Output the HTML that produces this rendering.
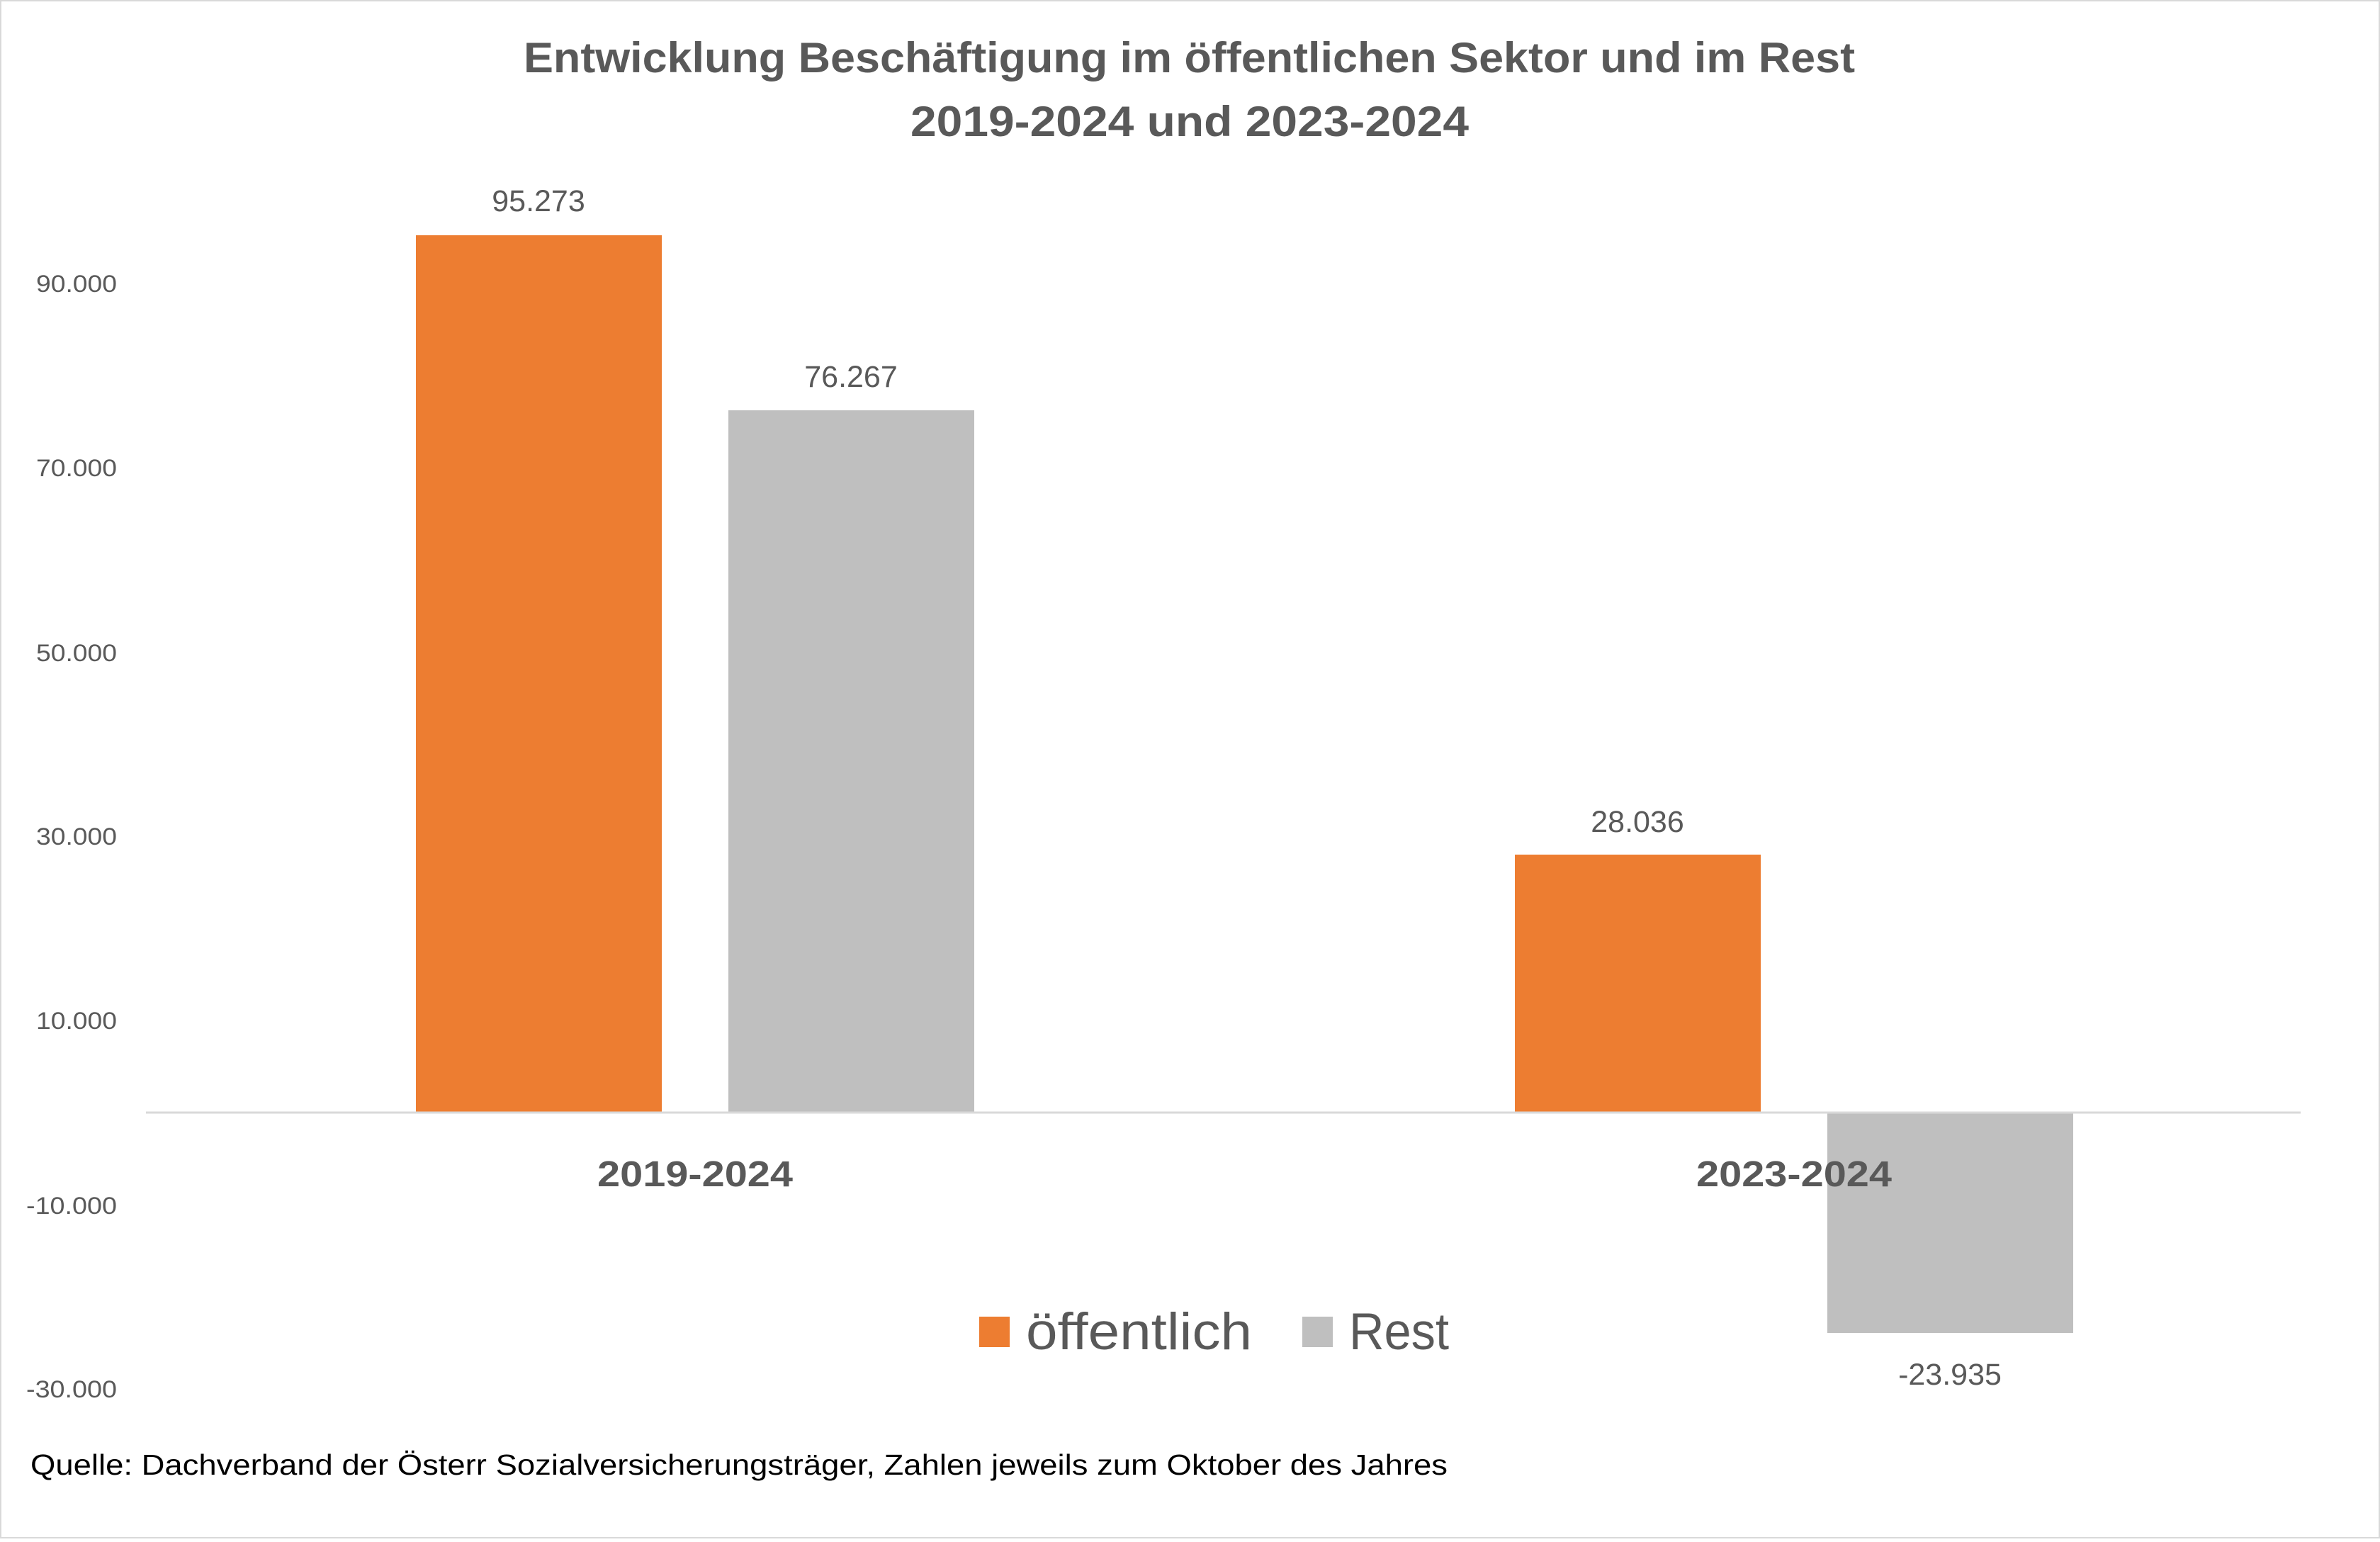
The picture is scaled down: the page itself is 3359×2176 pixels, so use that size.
<!DOCTYPE html>
<html><head><meta charset="utf-8"><style>
html,body{margin:0;padding:0;background:#fff}
svg text{font-family:"Liberation Sans",sans-serif;fill:#595959}
</style></head><body>
<svg width="3359" height="2171" viewBox="0 0 3359 2171" xmlns="http://www.w3.org/2000/svg">
<rect x="1" y="1" width="3357" height="2169" fill="#fff" stroke="#d9d9d9" stroke-width="2"/>
<text x="739" y="102" font-size="60" font-weight="bold" textLength="1879" lengthAdjust="spacingAndGlyphs">Entwicklung Beschäftigung im öffentlichen Sektor und im Rest</text>
<text x="1285" y="192" font-size="60" font-weight="bold" textLength="788" lengthAdjust="spacingAndGlyphs">2019-2024 und 2023-2024</text>
<g font-size="34">
<text x="51" y="412" textLength="114" lengthAdjust="spacingAndGlyphs">90.000</text>
<text x="51" y="672" textLength="114" lengthAdjust="spacingAndGlyphs">70.000</text>
<text x="51" y="933" textLength="114" lengthAdjust="spacingAndGlyphs">50.000</text>
<text x="51" y="1192" textLength="114" lengthAdjust="spacingAndGlyphs">30.000</text>
<text x="51" y="1452" textLength="114" lengthAdjust="spacingAndGlyphs">10.000</text>
<text x="37" y="1713" textLength="128" lengthAdjust="spacingAndGlyphs">-10.000</text>
<text x="37" y="1972" textLength="128" lengthAdjust="spacingAndGlyphs">-30.000</text>
</g>
<rect x="587" y="332" width="347" height="1238" fill="#ed7d31"/>
<rect x="1028" y="579" width="347" height="991" fill="#bfbfbf"/>
<rect x="2138" y="1206" width="347" height="364" fill="#ed7d31"/>
<rect x="2579" y="1570" width="347" height="311" fill="#bfbfbf"/>
<line x1="206" y1="1570" x2="3247" y2="1570" stroke="#d9d9d9" stroke-width="3"/>
<g font-size="43" text-anchor="middle">
<text x="760" y="298">95.273</text>
<text x="1201" y="546">76.267</text>
<text x="2311" y="1174">28.036</text>
<text x="2752" y="1954">-23.935</text>
</g>
<g font-size="51" font-weight="bold">
<text x="843" y="1674" textLength="276" lengthAdjust="spacingAndGlyphs">2019-2024</text>
<text x="2394" y="1674" textLength="276" lengthAdjust="spacingAndGlyphs">2023-2024</text>
</g>
<rect x="1382" y="1858" width="43" height="43" fill="#ed7d31"/>
<text x="1448" y="1904" font-size="73" textLength="319" lengthAdjust="spacingAndGlyphs">öffentlich</text>
<rect x="1838" y="1858" width="43" height="43" fill="#bfbfbf"/>
<text x="1904" y="1904" font-size="73" textLength="141" lengthAdjust="spacingAndGlyphs">Rest</text>
<text x="43" y="2081" font-size="41" style="fill:#000" textLength="2000" lengthAdjust="spacingAndGlyphs">Quelle: Dachverband der Österr Sozialversicherungsträger, Zahlen jeweils zum Oktober des Jahres</text>
</svg>
</body></html>
